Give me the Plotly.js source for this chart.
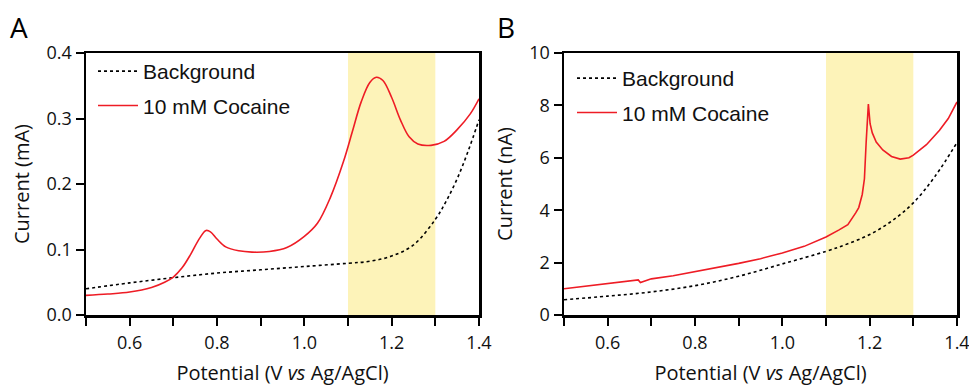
<!DOCTYPE html>
<html>
<head>
<meta charset="utf-8">
<script src="https://cdn.plot.ly/plotly-3.0.1.min.js"></script>
<style>html,body{margin:0;padding:0;background:#fff;}#chart{width:969px;height:386px;}</style>
</head>
<body>
<div id="chart"></div>
<script>
// Panel A data (current in mA)
const xA_bg = [0.50, 0.60, 0.70, 0.80, 0.90, 1.00, 1.10, 1.15, 1.20, 1.25, 1.30, 1.325, 1.35, 1.375, 1.40];
const yA_bg = [0.040, 0.049, 0.057, 0.064, 0.069, 0.074, 0.079, 0.082, 0.090, 0.107, 0.146, 0.174, 0.208, 0.250, 0.298];
const xA_coc = [0.50, 0.55, 0.60, 0.65, 0.68, 0.70, 0.72, 0.74, 0.76, 0.775, 0.785, 0.80, 0.82, 0.85, 0.88, 0.92, 0.96, 1.00, 1.03, 1.06, 1.09, 1.11, 1.13, 1.15, 1.165, 1.18, 1.20, 1.22, 1.24, 1.26, 1.29, 1.32, 1.35, 1.38, 1.40];
const yA_coc = [0.030, 0.032, 0.035, 0.042, 0.050, 0.058, 0.072, 0.093, 0.117, 0.129, 0.127, 0.116, 0.104, 0.098, 0.096, 0.097, 0.103, 0.120, 0.140, 0.180, 0.235, 0.280, 0.325, 0.355, 0.363, 0.358, 0.332, 0.298, 0.272, 0.261, 0.259, 0.265, 0.283, 0.307, 0.330];

// Panel B data (current in nA)
const xB_bg = [0.50, 0.60, 0.70, 0.80, 0.90, 1.00, 1.10, 1.15, 1.20, 1.25, 1.30, 1.35, 1.40];
const yB_bg = [0.58, 0.72, 0.88, 1.12, 1.48, 1.95, 2.43, 2.72, 3.07, 3.58, 4.28, 5.30, 6.58];
const xB_coc = [0.50, 0.55, 0.60, 0.65, 0.67, 0.675, 0.685, 0.70, 0.75, 0.80, 0.85, 0.90, 0.95, 1.00, 1.05, 1.08, 1.10, 1.13, 1.15, 1.168, 1.175, 1.183, 1.188, 1.192, 1.197, 1.201, 1.206, 1.215, 1.23, 1.25, 1.27, 1.29, 1.30, 1.33, 1.36, 1.38, 1.40];
const yB_coc = [1.00, 1.10, 1.20, 1.30, 1.34, 1.24, 1.30, 1.38, 1.50, 1.65, 1.80, 1.97, 2.15, 2.37, 2.62, 2.82, 2.98, 3.25, 3.45, 3.90, 4.10, 4.60, 5.20, 6.60, 8.05, 7.30, 6.95, 6.60, 6.30, 6.05, 5.95, 6.00, 6.10, 6.50, 7.05, 7.50, 8.13];

const seriesNames = ["Background", "10 mM Cocaine"];
const highlight = [1.1, 1.3];
const xTitle = "Potential (V <i>vs</i> Ag/AgCl)";
const yTitleA = "Current (mA)";
const yTitleB = "Current (nA)";
const panelLabels = ["A", "B"];

const red = "#ee1c25";
const traces = [
  {x: xA_bg, y: yA_bg, name: seriesNames[0], mode: "lines", line: {color: "#000", width: 1.6, dash: "3px,3px", shape: "spline", smoothing: 1}, xaxis: "x", yaxis: "y", legend: "legend", legendgroup: "a"},
  {x: xA_coc, y: yA_coc, name: seriesNames[1], mode: "lines", line: {color: red, width: 1.6, shape: "spline", smoothing: 1}, xaxis: "x", yaxis: "y", legend: "legend", legendgroup: "b"},
  {x: xB_bg, y: yB_bg, name: seriesNames[0], mode: "lines", line: {color: "#000", width: 1.6, dash: "3px,3px", shape: "spline", smoothing: 1}, xaxis: "x2", yaxis: "y2", legend: "legend2", legendgroup: "c"},
  {x: xB_coc, y: yB_coc, name: seriesNames[1], mode: "lines", line: {color: red, width: 1.6}, xaxis: "x2", yaxis: "y2", legend: "legend2", legendgroup: "d"}
];

const tickFont = {family: "Open Sans, sans-serif", size: 18, color: "#111"};
const titleFont = {family: "Open Sans, sans-serif", size: 20, color: "#111"};
function xax(domain, anchor) {
  return {
    domain: domain, anchor: anchor, range: [0.5, 1.4], dtick: 0.2, tick0: 0.6, tickformat: ".1f",
    showgrid: false, zeroline: false, showline: true, linecolor: "#000", linewidth: 2.5, mirror: true,
    ticks: "outside", ticklen: 8, tickwidth: 2, tickcolor: "#000", tickfont: tickFont, ticklabelstandoff: 2,
    ticklabeloverflow: "allow",
    minor: {dtick: 0.1, tick0: 0.5, ticks: "outside", ticklen: 8, tickwidth: 2, tickcolor: "#000", showgrid: false},
    title: {text: xTitle, font: titleFont, standoff: 13}, automargin: false, fixedrange: true
  };
}
function yax(domain, anchor, range, dtick, fmt, title) {
  return {
    domain: domain, anchor: anchor, range: range, dtick: dtick, tickformat: fmt,
    showgrid: false, zeroline: false, showline: true, linecolor: "#000", linewidth: 2.5, mirror: true,
    ticks: "outside", ticklen: 8, tickwidth: 2, tickcolor: "#000", tickfont: tickFont,
    title: {text: title, font: titleFont, standoff: 12}, automargin: false, fixedrange: true
  };
}
const yDom = [1 - 315 / 386, 1 - 53 / 386];
const legendFont = {family: "Liberation Sans, Arial, sans-serif", size: 21, color: "#111"};
const layout = {
  width: 969, height: 386,
  margin: {l: 0, r: 0, t: 0, b: 0},
  paper_bgcolor: "#fff", plot_bgcolor: "#fff",
  showlegend: true,
  xaxis: xax([86 / 969, 479 / 969], "y"),
  yaxis: yax(yDom, "x", [0, 0.4], 0.1, ".1f", yTitleA),
  xaxis2: xax([564 / 969, 957 / 969], "y2"),
  yaxis2: yax(yDom, "x2", [0, 10], 2, "d", yTitleB),
  legend: {x: 93 / 969, y: 1 - 51 / 386, xanchor: "left", yanchor: "top", bgcolor: "rgba(0,0,0,0)", font: legendFont, traceorder: "grouped", tracegroupgap: 4, itemwidth: 40},
  legend2: {x: 572 / 969, y: 1 - 58 / 386, xanchor: "left", yanchor: "top", bgcolor: "rgba(0,0,0,0)", font: legendFont, traceorder: "grouped", tracegroupgap: 4, itemwidth: 40},
  shapes: [
    {type: "rect", xref: "x", yref: "y domain", x0: highlight[0], x1: highlight[1], y0: 0, y1: 1, fillcolor: "rgb(253,243,185)", line: {width: 0}, layer: "below"},
    {type: "rect", xref: "x2", yref: "y2 domain", x0: highlight[0], x1: highlight[1], y0: 0, y1: 1, fillcolor: "rgb(253,243,185)", line: {width: 0}, layer: "below"}
  ],
  annotations: [
    {text: panelLabels[0], xref: "paper", yref: "paper", x: 19 / 969, y: 1 - 27 / 386, xanchor: "center", yanchor: "middle", showarrow: false, font: {family: "Open Sans, sans-serif", size: 28, color: "#000"}},
    {text: panelLabels[1], xref: "paper", yref: "paper", x: 506 / 969, y: 1 - 27 / 386, xanchor: "center", yanchor: "middle", showarrow: false, font: {family: "Open Sans, sans-serif", size: 28, color: "#000"}}
  ]
};
Plotly.newPlot("chart", traces, layout, {displayModeBar: false, staticPlot: true});
</script>
</body>
</html>
